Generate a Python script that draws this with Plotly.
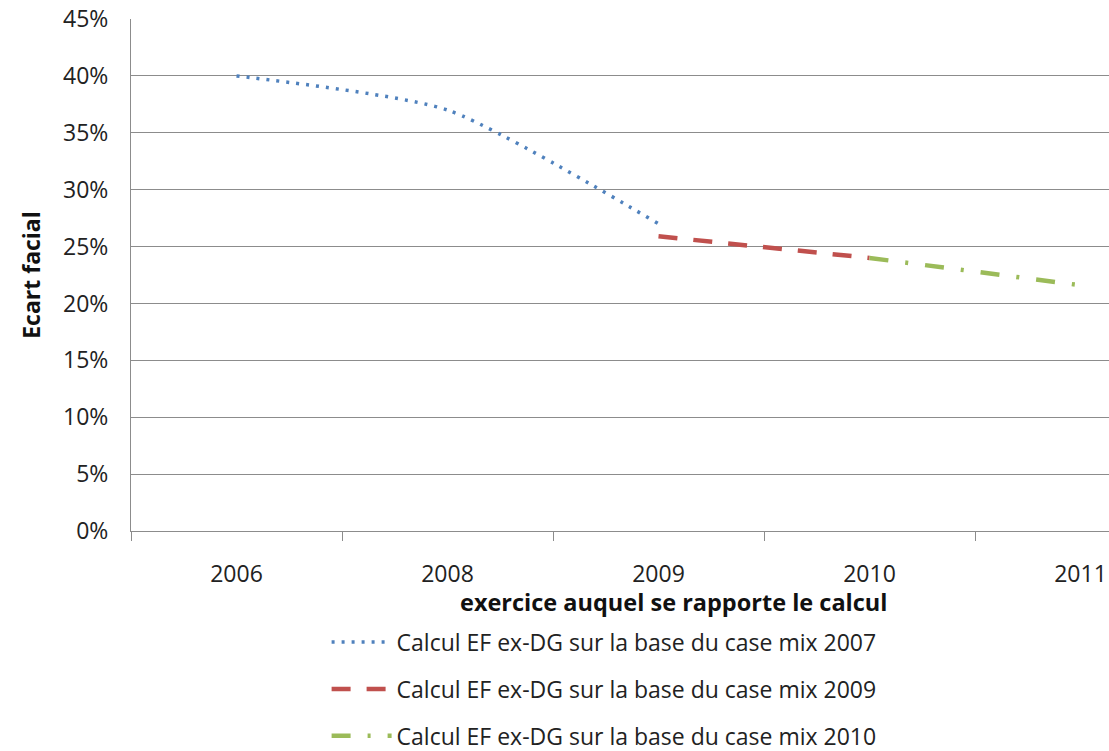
import plotly.graph_objects as go

categories = ["2006", "2008", "2009", "2010", "2011"]

s2007_x = ["2006", "2008", "2009"]
s2007_y = [0.400, 0.370, 0.270]

s2009_x = ["2009", "2010"]
s2009_y = [0.259, 0.240]

s2010_x = ["2010", "2011"]
s2010_y = [0.240, 0.216]

names = [
    "Calcul EF ex-DG sur la base du case mix 2007",
    "Calcul EF ex-DG sur la base du case mix 2009",
    "Calcul EF ex-DG sur la base du case mix 2010",
]

FONT = "Open Sans"
GRID = "#8c8c8c"

fig = go.Figure()
fig.add_trace(go.Scatter(
    x=s2007_x, y=s2007_y, mode="lines", name=names[0], legendgroup="a",
    line=dict(color="#4F81BD", width=3.5, dash="3px,7px", shape="spline", smoothing=0.6),
))
fig.add_trace(go.Scatter(
    x=s2009_x, y=s2009_y, mode="lines", name=names[1], legendgroup="b",
    line=dict(color="#C0504D", width=4.5, dash="19px,16px"),
))
fig.add_trace(go.Scatter(
    x=s2010_x, y=s2010_y, mode="lines", name=names[2], legendgroup="c",
    line=dict(color="#9BBB59", width=4.5, dash="19px,17px,3px,17px"),
))

fig.update_layout(
    width=1109, height=751,
    margin=dict(l=131, r=0, t=19, b=220, autoexpand=False),
    paper_bgcolor="white", plot_bgcolor="white",
    font=dict(family=FONT, size=22, color="#222222"),
    showlegend=True,
    legend=dict(
        x=0.2, xanchor="left", y=-0.175, yanchor="top",
        traceorder="grouped", tracegroupgap=14, itemwidth=60,
        font=dict(family=FONT, size=23, color="#222222"),
        bgcolor="rgba(0,0,0,0)",
    ),
    annotations=[dict(
        text="<b>exercice auquel se rapporte le calcul</b>",
        x=categories.index("2009"), xref="x", xshift=15,
        y=-0.139, yref="paper", yanchor="middle",
        showarrow=False,
        font=dict(family=FONT, size=23.5, color="#111111"),
    )],
)

fig.update_xaxes(
    type="category", categoryorder="array", categoryarray=categories,
    range=[-0.5, 4.135],
    showgrid=False, showline=True, linecolor=GRID, linewidth=1,
    ticks="outside", tickson="boundaries", ticklen=9, tickcolor=GRID,
    ticklabelstandoff=22,
    tickfont=dict(family=FONT, size=23, color="#222222"),
    zeroline=False,
)
fig.update_yaxes(
    range=[0, 0.45], dtick=0.05, tickformat=".0%",
    showgrid=True, gridcolor=GRID, gridwidth=1,
    showline=True, linecolor=GRID, linewidth=1,
    zeroline=False, ticks="", ticklabelstandoff=17,
    tickfont=dict(family=FONT, size=23, color="#222222"),
    title=dict(text="<b>Ecart facial</b>", font=dict(family=FONT, size=23, color="#111111"), standoff=16),
)

fig.write_html("out.html")
